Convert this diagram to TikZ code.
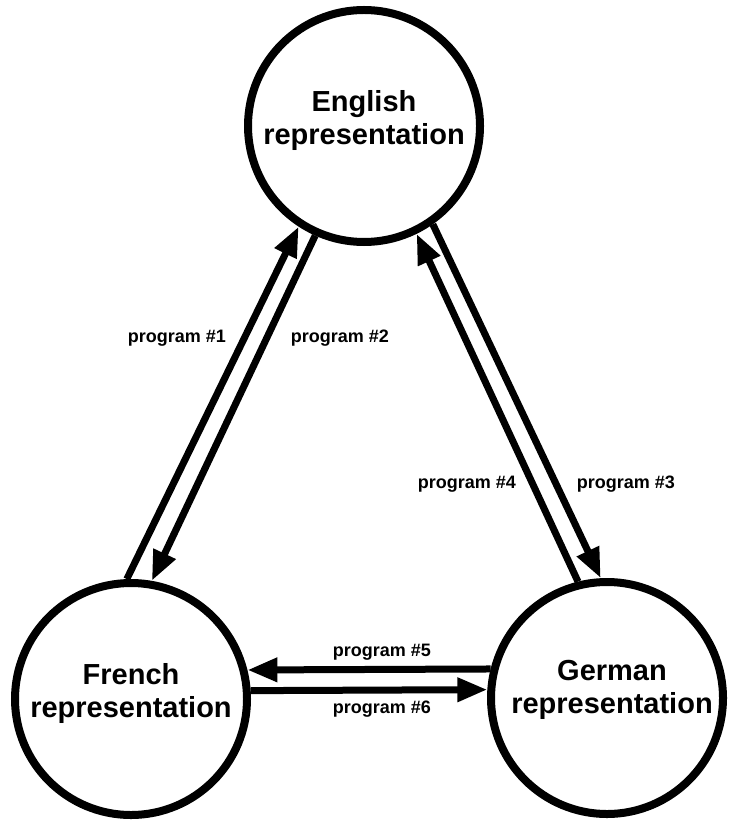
\documentclass[tikz,border=0pt]{standalone}
\usepackage{fontspec}
\setmainfont{Liberation Sans}
\usetikzlibrary{arrows.meta}
\begin{document}
\begin{tikzpicture}[x=1pt,y=-1pt,
  rep/.style={circle,draw=black,line width=8pt,minimum size=232pt,inner sep=0pt,
    align=center,text depth=18pt,font=\fontsize{29pt}{33pt}\selectfont\bfseries},
  lbl/.style={font=\fontsize{18pt}{20pt}\selectfont\bfseries,inner sep=0pt},
  conn/.style={line width=7pt,-{Triangle[length=30pt,width=23pt]}}]
\useasboundingbox (0,0) rectangle (737,826);
\node[rep] (en) at (364,126) {English\\representation};
\node[rep] (fr) at (131,699) {French\\representation};
\node[rep,text depth=23pt] (de) at (607,698) {\hspace*{10pt}German\\\hspace*{10pt}representation};
% left pair
\draw[conn] (fr.92) -- (en.237);
\draw[conn] (en.246) -- (fr.80);
% right pair
\draw[conn] (en.305) -- (de.93);
\draw[conn] (de.104) -- (en.296);
% bottom pair
\draw[conn] (de.166.5) -- (fr.14);
\draw[conn] (fr.4.3) -- (de.176);
% labels
\node[lbl] (l1) at (177,338) {program \#1};
\node[lbl] (l2) at (340,338) {program \#2};
\node[lbl] (l3) at (626,484) {program \#3};
\node[lbl] (l4) at (467,484) {program \#4};
\node[lbl] (l5) at (382,652) {program \#5};
\node[lbl] (l6) at (382,709) {program \#6};
\end{tikzpicture}
\end{document}
